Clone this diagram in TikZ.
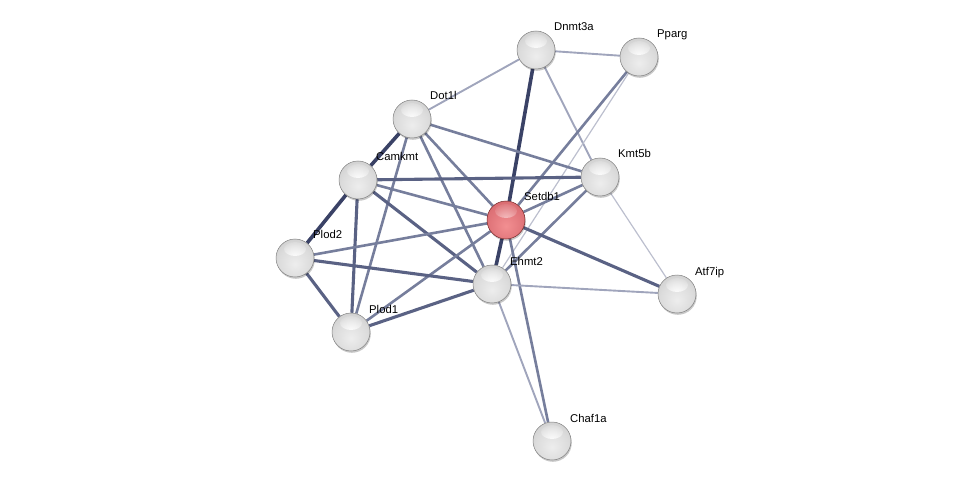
\documentclass[tikz,border=0pt]{standalone}
\usepackage{fontspec}
\setmainfont{Liberation Sans}
\usetikzlibrary{shadows,calc,fadings}
\pgfdeclarelayer{bg}
\pgfsetlayers{bg,main}
\definecolor{ca}{RGB}{188,191,206}
\definecolor{cb}{RGB}{160,165,188}
\definecolor{cc}{RGB}{118,126,156}
\definecolor{cd}{RGB}{90,98,132}
\definecolor{ce}{RGB}{58,66,102}
\pgfdeclareradialshading{sphg}{\pgfpoint{0bp}{-8bp}}{%
  rgb(0bp)=(0.93,0.93,0.93);
  rgb(22bp)=(0.86,0.86,0.86);
  rgb(42bp)=(0.77,0.77,0.77);
  rgb(52bp)=(0.64,0.64,0.64);
  rgb(58bp)=(0.48,0.48,0.48);
  rgb(100bp)=(0.48,0.48,0.48)}
\pgfdeclareradialshading{sphr}{\pgfpoint{0bp}{-8bp}}{%
  rgb(0bp)=(0.95,0.56,0.57);
  rgb(22bp)=(0.88,0.46,0.48);
  rgb(42bp)=(0.82,0.38,0.40);
  rgb(52bp)=(0.70,0.26,0.28);
  rgb(58bp)=(0.52,0.14,0.16);
  rgb(100bp)=(0.52,0.14,0.16)}
\tikzfading[name=hlfade, inner color=transparent!0, outer color=transparent!100]
\tikzset{
  prot/.style={circle, minimum size=38pt, inner sep=0pt, shading=sphg,
     draw=black!50, line width=0.5pt,
     path picture={\fill[white,path fading=hlfade,fill opacity=0.95] ($(path picture bounding box.center)+(0,-9)$) ellipse (11pt and 7pt);},
     drop shadow={shadow xshift=0.8pt, shadow yshift=-1.8pt, opacity=0.22, fill=black}},
  protred/.style={prot, shading=sphr, draw=red!35!black!85,
     path picture={\fill[white,path fading=hlfade,fill opacity=0.5] ($(path picture bounding box.center)+(0,-9)$) ellipse (11pt and 7pt);}},
  lab/.style={anchor=base west, inner sep=0pt, font=\fontsize{11.3}{13}\selectfont},
  ea/.style={draw=ca, line width=1.2pt},
  eb/.style={draw=cb, line width=1.9pt},
  ec/.style={draw=cc, line width=2.6pt},
  ed/.style={draw=cd, line width=3.1pt},
  ee/.style={draw=ce, line width=3.6pt},
}
\begin{document}
\begin{tikzpicture}[x=1pt,y=-1pt]
\useasboundingbox (0,0) rectangle (976,486);
\node[prot] (dnmt) at (536,50) {};
\node[prot] (pparg) at (639,57) {};
\node[prot] (dot) at (412,119) {};
\node[prot] (camk) at (358,180) {};
\node[prot] (kmt) at (600,177) {};
\node[protred] (setdb) at (506,220) {};
\node[prot] (plod2) at (295,258) {};
\node[prot] (ehmt) at (492,284) {};
\node[prot] (atf) at (677,294) {};
\node[prot] (plod1) at (351,332) {};
\node[prot] (chaf) at (552,441) {};
\node[lab] (ldnmt) at (554,31) {Dnmt3a};
\node[lab] (lpparg) at (657,38) {Pparg};
\node[lab] (ldot) at (430,100) {Dot1l};
\node[lab] (lcamk) at (376,161) {Camkmt};
\node[lab] (lkmt) at (618,158) {Kmt5b};
\node[lab] (lsetdb) at (524,201) {Setdb1};
\node[lab] (lplod2) at (313,239) {Plod2};
\node[lab] (lehmt) at (510,265) {Ehmt2};
\node[lab] (latf) at (695,275) {Atf7ip};
\node[lab] (lplod1) at (369,313) {Plod1};
\node[lab] (lchaf) at (570,422) {Chaf1a};
\begin{pgfonlayer}{bg}
\draw[eb] (dnmt) -- (pparg);
\draw[eb] (dnmt) -- (dot);
\draw[ee] (dnmt) -- (setdb);
\draw[eb] (dnmt) -- (kmt);
\draw[ec] (pparg) -- (setdb);
\draw[ea] (pparg) -- (ehmt);
\draw[ee] (dot) -- (camk);
\draw[ec] (dot) -- (kmt);
\draw[ec] (dot) -- (setdb);
\draw[ec] (dot) -- (ehmt);
\draw[ec] (dot) -- (plod1);
\draw[ed] (camk) -- (kmt);
\draw[ec] (camk) -- (setdb);
\draw[ed] (camk) -- (ehmt);
\draw[ee] (camk) -- (plod2);
\draw[ed] (camk) -- (plod1);
\draw[ec] (kmt) -- (setdb);
\draw[ec] (kmt) -- (ehmt);
\draw[ea] (kmt) -- (atf);
\draw[ec] (setdb) -- (plod2);
\draw[ec] (setdb) -- (plod1);
\draw[ee] (setdb) -- (ehmt);
\draw[ed] (setdb) -- (atf);
\draw[ec] (setdb) -- (chaf);
\draw[ed] (plod2) -- (ehmt);
\draw[ed] (plod2) -- (plod1);
\draw[ed] (plod1) -- (ehmt);
\draw[eb] (ehmt) -- (atf);
\draw[eb] (ehmt) -- (chaf);
\end{pgfonlayer}
\end{tikzpicture}
\end{document}
